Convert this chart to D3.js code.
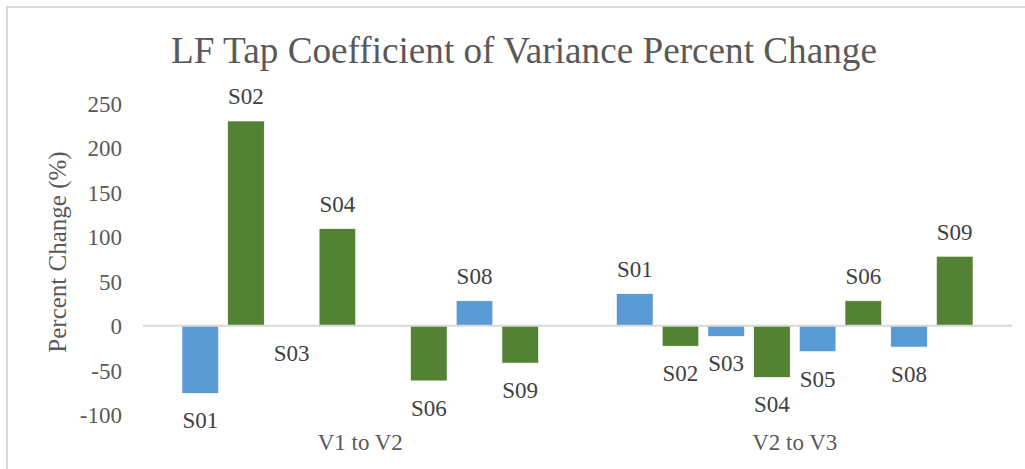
<!DOCTYPE html>
<html>
<head>
<meta charset="utf-8">
<script src="https://cdn.jsdelivr.net/npm/d3@7"></script>
<style>
  html, body { margin: 0; padding: 0; background: #fff; }
  svg { display: block; }
</style>
</head>
<body>
<svg id="chart" width="1025" height="469"></svg>
<script>
// Coefficient-of-variance percent change per subject, for each visit transition
const groups = ["V1 to V2", "V2 to V3"];
const subjects = ["S01", "S02", "S03", "S04", "S05", "S06", "S08", "S09"];
const v1ToV2 = [-76, 230, 0, 109, null, -62, 28, -42];
const v2ToV3 = [36, -23, -12, -58, -29, 28, -24, 78];
const yTicks = [-100, -50, 0, 50, 100, 150, 200, 250];
const subjectColors = ["#5b9bd5", "#548235", "#5b9bd5", "#548235", "#5b9bd5", "#548235", "#5b9bd5", "#548235"];

const FONT = "Liberation Serif";

const seriesByGroup = [v1ToV2, v2ToV3];
const rows = [];
groups.forEach((g, gi) => {
  subjects.forEach((s, si) => {
    rows.push({ group: g, subject: s, value: seriesByGroup[gi][si], color: subjectColors[si] });
  });
});

const svg = d3.select("#chart");

// chart frame
svg.append("rect")
  .attr("x", 7).attr("y", 7)
  .attr("width", 1030).attr("height", 480)
  .attr("fill", "none")
  .attr("stroke", "#d9d9d9")
  .attr("stroke-width", 2);

const plot = { left: 143, right: 1012, top: 103.2, bottom: 414.7 };

const x0 = d3.scaleBand().domain(groups).range([plot.left, plot.right]).paddingInner(0).paddingOuter(0);
const x1 = d3.scaleBand().domain(subjects)
  .range([39, x0.bandwidth() - 39])
  .paddingInner(0.2).paddingOuter(0);
const y = d3.scaleLinear().domain([-100, 250]).range([plot.bottom, plot.top]);

// title
svg.append("text")
  .attr("x", 524).attr("y", 63)
  .attr("text-anchor", "middle")
  .attr("fill", "#595959")
  .attr("font-family", FONT)
  .attr("font-size", 37.2)
  .text("LF Tap Coefficient of Variance Percent Change");

// y axis title
svg.append("text")
  .attr("transform", "translate(66,252) rotate(-90)")
  .attr("text-anchor", "middle")
  .attr("fill", "#595959")
  .attr("font-family", FONT)
  .attr("font-size", 25)
  .text("Percent Change (%)");

// y axis tick labels (no axis line or ticks)
const yAxis = svg.append("g")
  .attr("transform", `translate(${plot.left},0)`)
  .call(d3.axisLeft(y).tickValues(yTicks).tickSize(0).tickPadding(21).tickFormat(d => String(d)));
yAxis.attr("font-family", FONT).attr("font-size", 23);
yAxis.select(".domain").remove();
yAxis.selectAll("text")
  .attr("fill", "#595959")
  .attr("dy", "0.36em");

// bars
const barG = svg.append("g");
barG.selectAll("rect")
  .data(rows.filter(d => d.value !== null))
  .join("rect")
  .attr("x", d => x0(d.group) + x1(d.subject))
  .attr("y", d => y(Math.max(0, d.value)))
  .attr("width", x1.bandwidth())
  .attr("height", d => Math.abs(y(d.value) - y(0)))
  .attr("fill", d => d.color)
  .attr("stroke", "#ffffff")
  .attr("stroke-width", 0.6);

// zero baseline
svg.append("line")
  .attr("x1", plot.left).attr("x2", plot.right)
  .attr("y1", y(0)).attr("y2", y(0))
  .attr("stroke", "#d9d9d9")
  .attr("stroke-width", 2);

// data labels: subject name above positive bars, below others
svg.append("g").selectAll("text")
  .data(rows.filter(d => d.value !== null))
  .join("text")
  .attr("x", d => x0(d.group) + x1(d.subject) + x1.bandwidth() / 2)
  .attr("y", d => d.value > 0 ? y(d.value) - 16.6 : y(d.value) + 35)
  .attr("text-anchor", "middle")
  .attr("fill", "#404040")
  .attr("font-family", FONT)
  .attr("font-size", 23)
  .text(d => d.subject);

// category labels
svg.append("g").selectAll("text")
  .data(groups)
  .join("text")
  .attr("x", d => x0(d) + x0.bandwidth() / 2)
  .attr("y", 450)
  .attr("text-anchor", "middle")
  .attr("fill", "#595959")
  .attr("font-family", FONT)
  .attr("font-size", 23)
  .text(d => d);
</script>
</body>
</html>
